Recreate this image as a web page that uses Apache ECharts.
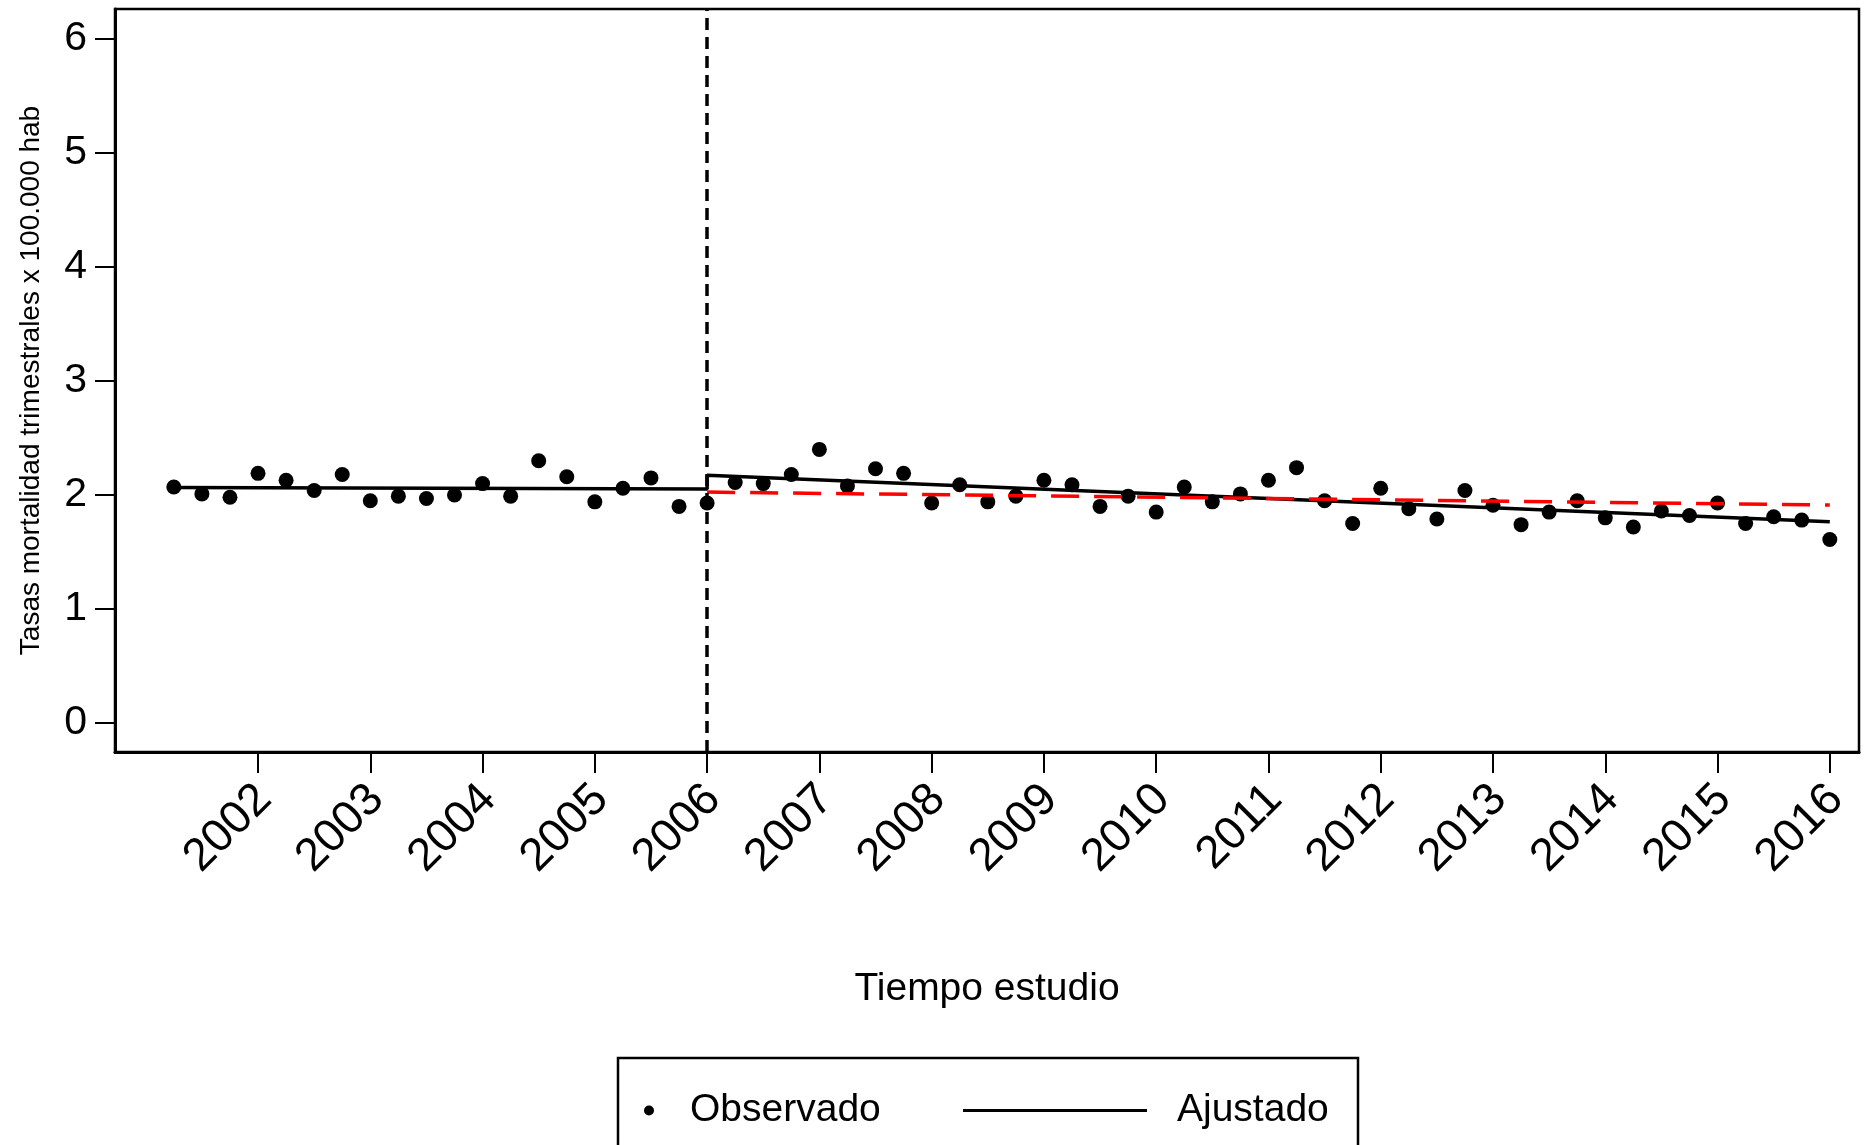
<!DOCTYPE html>
<html>
<head>
<meta charset="utf-8">
<title>Tasas mortalidad trimestrales</title>
<script src="https://cdn.jsdelivr.net/npm/echarts@6/dist/echarts.min.js"></script>
<style>
    html, body { margin: 0; padding: 0; background: #fff; }
    #main { width: 1864px; height: 1145px; }
</style>
</head>
<body>
<div id="main"></div>
<script>
var years = [2002, 2003, 2004, 2005, 2006, 2007, 2008, 2009, 2010, 2011, 2012, 2013, 2014, 2015, 2016];
var yTicks = [0, 1, 2, 3, 4, 5, 6];

// trimestres observados (antes y despues de la intervencion)
var preTime = [2001.25, 2001.5, 2001.75, 2002, 2002.25, 2002.5, 2002.75, 2003, 2003.25, 2003.5,
    2003.75, 2004, 2004.25, 2004.5, 2004.75, 2005, 2005.25, 2005.5, 2005.75, 2006];
var preRate = [2.07, 2.01, 1.98, 2.19, 2.13, 2.04, 2.18, 1.95, 1.99, 1.97,
    2.00, 2.10, 1.99, 2.30, 2.16, 1.94, 2.06, 2.15, 1.90, 1.93];
var postTime = [2006.25, 2006.5, 2006.75, 2007, 2007.25, 2007.5, 2007.75, 2008, 2008.25, 2008.5,
    2008.75, 2009, 2009.25, 2009.5, 2009.75, 2010, 2010.25, 2010.5, 2010.75, 2011,
    2011.25, 2011.5, 2011.75, 2012, 2012.25, 2012.5, 2012.75, 2013, 2013.25, 2013.5,
    2013.75, 2014, 2014.25, 2014.5, 2014.75, 2015, 2015.25, 2015.5, 2015.75, 2016];
var postRate = [2.11, 2.10, 2.18, 2.40, 2.08, 2.23, 2.19, 1.93, 2.09, 1.94,
    1.99, 2.13, 2.09, 1.90, 1.99, 1.85, 2.07, 1.94, 2.01, 2.13,
    2.24, 1.95, 1.75, 2.06, 1.88, 1.79, 2.04, 1.91, 1.74, 1.85,
    1.95, 1.80, 1.72, 1.86, 1.82, 1.93, 1.75, 1.81, 1.78, 1.61];

// recta ajustada (segmentada) y contrafactual
var fitTime = [2001.25, 2006, 2006, 2016];
var fitRate = [2.065, 2.052, 2.173, 1.766];
var cfTime = [2006, 2016];
var cfRate = [2.026, 1.912];
var cutYear = 2006;

function pairs(xs, ys) {
    var out = [];
    for (var i = 0; i < xs.length; i++) {
        out.push([xs[i], ys[i]]);
    }
    return out;
}

var myChart = echarts.init(document.getElementById('main'));
var font = 'Liberation Sans, Arial, Helvetica, sans-serif';

var option = {
    backgroundColor: '#fff',
    animation: false,
    textStyle: { fontFamily: font, color: '#000' },
    grid: {
        left: 115,
        right: 5,
        top: 9,
        bottom: 393,
        show: true,
        borderColor: '#000',
        borderWidth: 2.5
    },
    xAxis: {
        type: 'value',
        min: 2000.726,
        max: 2016.26,
        name: 'Tiempo estudio',
        nameLocation: 'middle',
        nameGap: 218,
        nameTextStyle: { fontSize: 39, color: '#000', fontFamily: font },
        axisLine: { show: true, onZero: false, lineStyle: { color: '#000', width: 3 } },
        axisTick: { show: true, length: 21, customValues: years, lineStyle: { color: '#000', width: 2 } },
        axisLabel: {
            customValues: years,
            rotate: 45,
            margin: 14,
            padding: [0, 14, 0, 0],
            fontSize: 46,
            color: '#000',
            fontFamily: font,
            verticalAlign: 'top',
            formatter: function (v) { return String(v); }
        },
        splitLine: { show: false }
    },
    yAxis: {
        type: 'value',
        min: -0.254,
        max: 6.263,
        name: 'Tasas mortalidad trimestrales x 100.000 hab',
        nameLocation: 'middle',
        nameGap: 70,
        nameTextStyle: { fontSize: 28, color: '#000', fontFamily: font },
        axisLine: { show: true, lineStyle: { color: '#000', width: 3 } },
        axisTick: { show: true, length: 20, customValues: yTicks, lineStyle: { color: '#000', width: 2 } },
        axisLabel: {
            customValues: yTicks,
            margin: 28,
            fontSize: 41,
            color: '#000',
            fontFamily: font
        },
        splitLine: { show: false }
    },
    legend: [{
        data: ['Observado'],
        left: 644,
        top: 1091,
        padding: 0,
        icon: 'circle',
        itemWidth: 10,
        itemHeight: 10,
        selectedMode: false,
        itemStyle: { color: '#000', opacity: 1 },
        textStyle: { fontSize: 39, color: '#000', fontFamily: font, padding: [0, 0, 0, 31] }
    }, {
        data: ['Ajustado'],
        left: 963,
        top: 1091,
        padding: 0,
        icon: 'rect',
        itemWidth: 184,
        itemHeight: 3,
        selectedMode: false,
        itemStyle: { color: '#000' },
        textStyle: { fontSize: 39, color: '#000', fontFamily: font, padding: [0, 0, 0, 25] }
    }],
    graphic: [{
        type: 'rect',
        shape: { x: 618, y: 1058, width: 740, height: 120 },
        style: { fill: 'none', stroke: '#000', lineWidth: 2.5 },
        silent: true
    }],
    series: [{
            name: 'Observado',
            type: 'scatter',
            symbol: 'circle',
            symbolSize: 15,
            itemStyle: { color: '#000', opacity: 1 },
            z: 2,
            data: pairs(preTime, preRate).concat(pairs(postTime, postRate))
        },
        {
            name: 'Ajustado',
            type: 'line',
            symbol: 'none',
            itemStyle: { color: '#000' },
            lineStyle: { color: '#000', width: 3.5 },
            z: 3,
            data: pairs(fitTime, fitRate),
            markLine: {
                silent: true,
                symbol: ['none', 'none'],
                label: { show: false },
                lineStyle: { color: '#000', width: 3.5, type: [12, 7] },
                data: [{ xAxis: cutYear }]
            }
        },
        {
            name: 'Contrafactual',
            type: 'line',
            symbol: 'none',
            itemStyle: { color: '#ff0000' },
            lineStyle: { color: '#ff0000', width: 3.5, type: [28, 15] },
            z: 4,
            data: pairs(cfTime, cfRate)
        }
    ]
};

myChart.setOption(option);
</script>
</body>
</html>
